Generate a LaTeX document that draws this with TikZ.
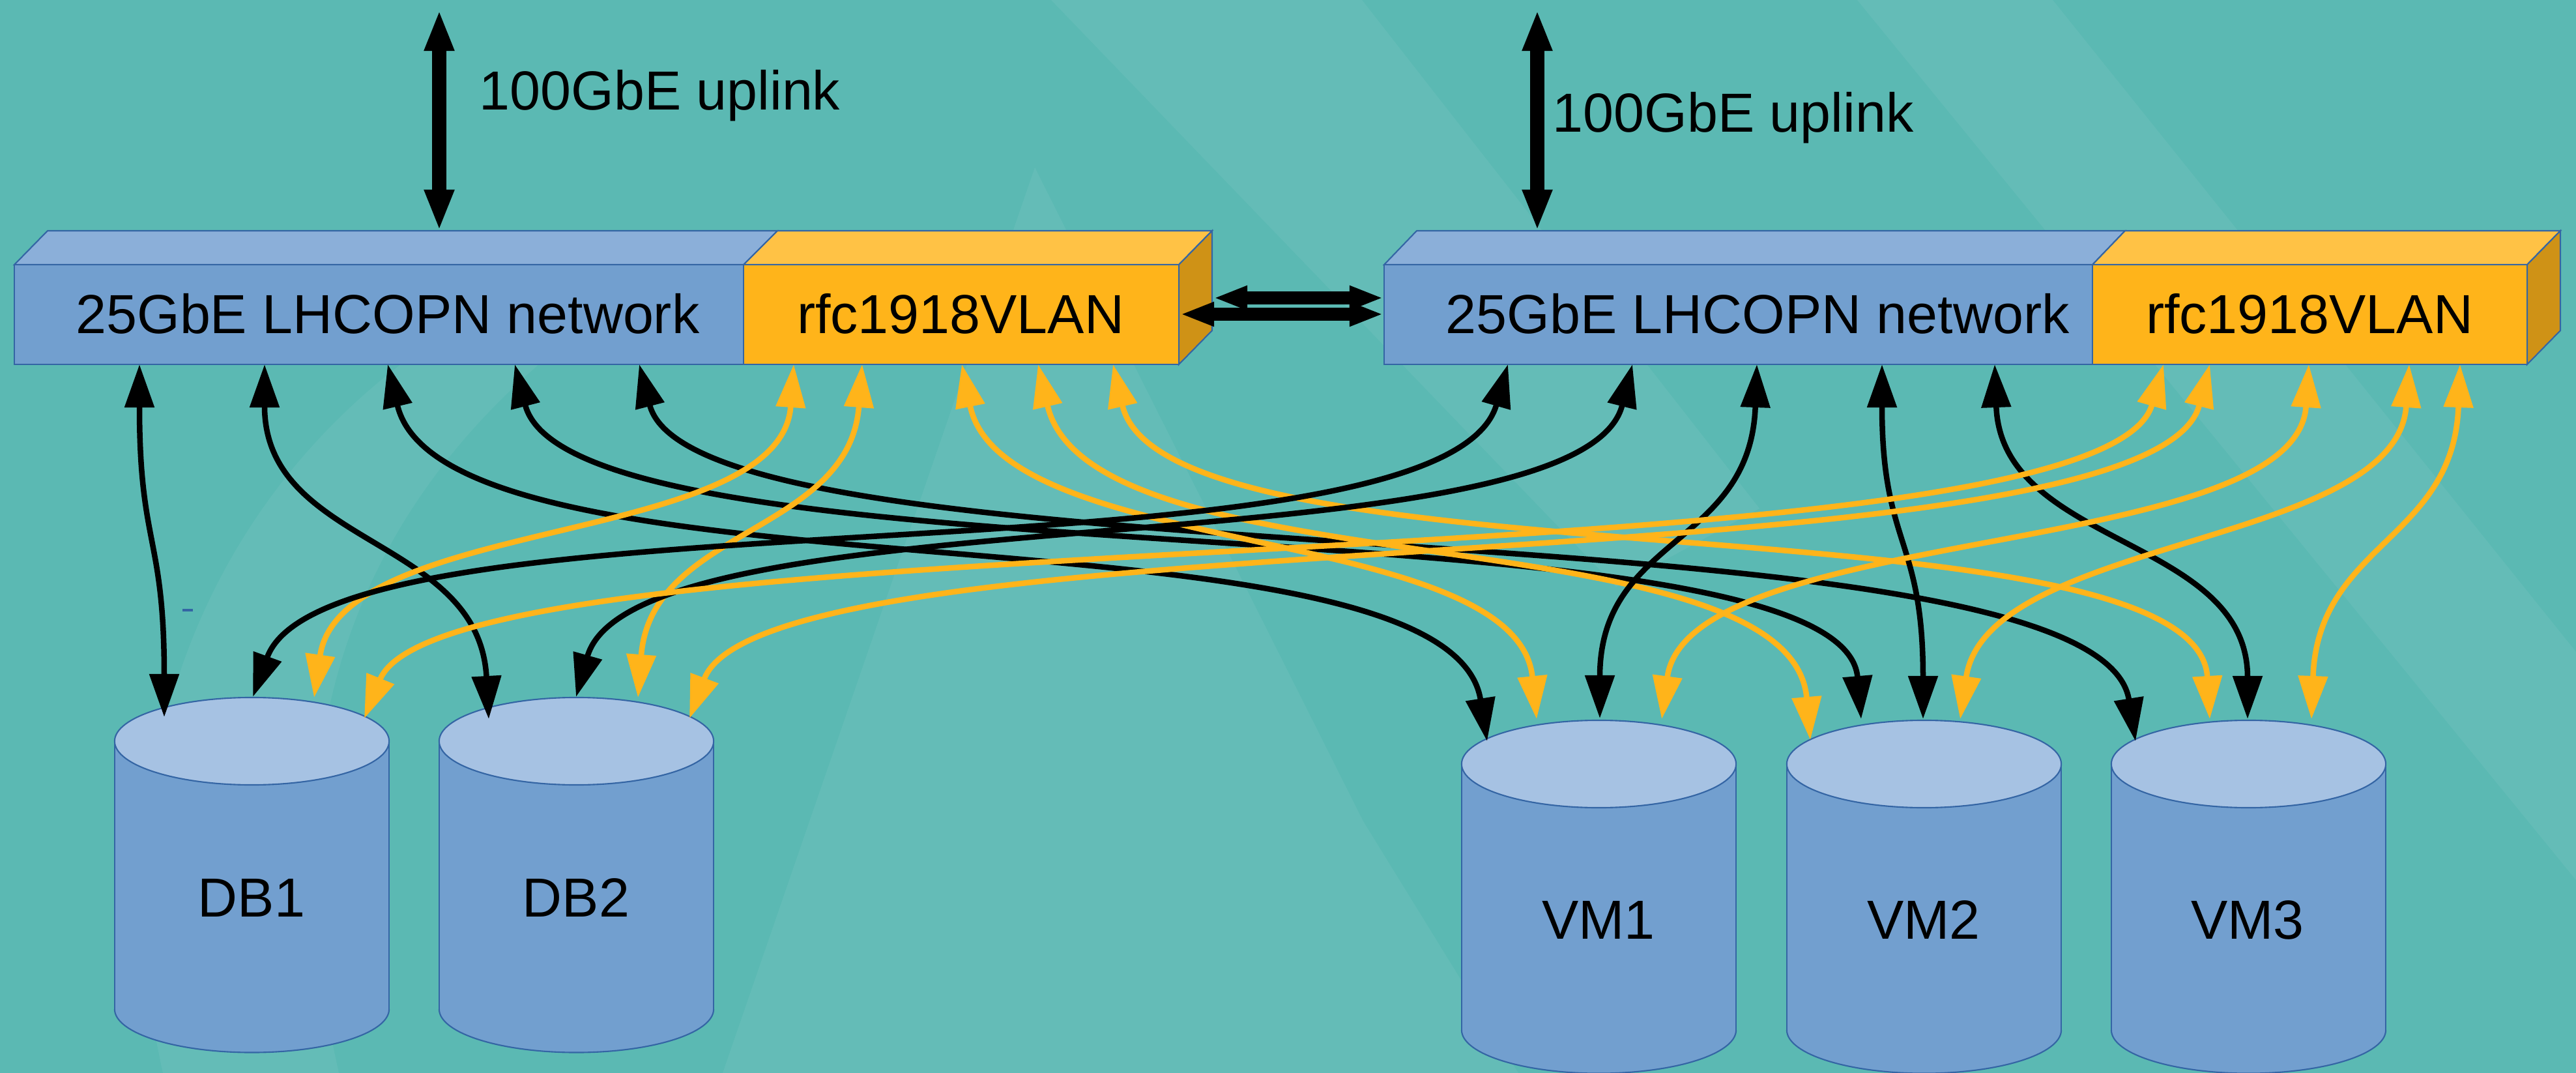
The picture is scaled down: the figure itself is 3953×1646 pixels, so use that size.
\documentclass[tikz,border=0pt]{standalone}
\usepackage{fontspec}
\setmainfont{Liberation Sans}
\usetikzlibrary{arrows.meta}
\definecolor{bg}{RGB}{91,185,179}
\definecolor{bluefront}{RGB}{114,159,207}
\definecolor{bluetop}{RGB}{139,175,217}
\definecolor{orfront}{RGB}{255,180,26}
\definecolor{ortop}{RGB}{255,194,69}
\definecolor{orside}{RGB}{207,146,22}
\definecolor{cyltop}{RGB}{166,194,227}
\definecolor{edgeblue}{RGB}{52,101,164}
\definecolor{conorange}{RGB}{255,180,26}
\tikzset{
  face/.style={draw=edgeblue, line width=0.6pt, line join=miter},
  lbl/.style={font=\fontsize{24}{28}\selectfont, inner sep=0pt, anchor=base, text=black},
  blk/.style={line width=0.85mm, color=black,
    arrows={Triangle[length=6.6mm,width=4.4mm]-Triangle[length=6.6mm,width=4.4mm]}},
  org/.style={blk, color=conorange},
  uplink/.style={line width=2.2mm, color=black,
    arrows={Triangle[length=6.3mm,width=4.2mm]-Triangle[length=6.3mm,width=4.2mm]}},
  link/.style={line width=1.9mm, color=black,
    arrows={Triangle[length=5.2mm,width=3.4mm]-Triangle[length=5.2mm,width=3.4mm]}},
  shade/.style={fill=white, fill opacity=0.055},
}
\newcommand\mycyl[3]{%
  \fill[bluefront] (#1-210.5,#2) rectangle (#1+210.5,#3);
  \fill[bluefront] (#1,#3) ellipse[x radius=2.105cm, y radius=0.665cm];
  \begin{scope}
    \clip (#1-220,#3) rectangle (#1+220,#3+80);
    \draw[edgeblue, line width=0.6pt] (#1,#3) ellipse[x radius=2.105cm, y radius=0.665cm];
  \end{scope}
  \draw[edgeblue, line width=0.6pt] (#1-210.5,#2) -- (#1-210.5,#3) (#1+210.5,#2) -- (#1+210.5,#3);
  \path[fill=cyltop, draw=edgeblue, line width=0.6pt] (#1,#2) ellipse[x radius=2.105cm, y radius=0.67cm];
}
\begin{document}
\begin{tikzpicture}[x=0.01cm, y=-0.01cm]
\useasboundingbox (0,0) rectangle (3953,1646);
\fill[bg] (0,0) rectangle (3953,1646);
% subtle background pattern
\begin{scope}
  \clip (0,0) rectangle (3953,1646);
  \path[shade] (1588,257) -- (2092,1260) -- (2330,1646) -- (1109,1646) -- cycle;
  \path[shade] (1613,0) -- (2090,0) -- (2700,780) -- (2480,900) -- cycle;
  \path[shade] (2850,0) -- (3150,0) -- (3953,1000) -- (3953,1350) -- cycle;
  \path[shade] (250,1646) .. controls (150,1200) and (300,750) .. (700,500)
     -- (900,500) .. controls (500,800) and (420,1200) .. (520,1646) -- cycle;
\end{scope}

% ---- left switch box
\path[face, fill=bluetop] (22,406) -- (73,354) -- (1193,354) -- (1141,406) -- cycle;
\path[face, fill=ortop] (1141,406) -- (1193,354) -- (1860,354) -- (1809,406) -- cycle;
\path[face, fill=orside] (1809,406) -- (1860,354) -- (1860,507) -- (1809,559) -- cycle;
\path[face, fill=bluefront] (22,406) rectangle (1141,559);
\path[face, fill=orfront] (1141,406) rectangle (1809,559);
\node[lbl] (net1) at (595,512) {25GbE LHCOPN network};
\node[lbl] (vlan1) at (1474,512) {rfc1918VLAN};

% ---- right switch box
\path[face, fill=bluetop] (2124,406) -- (2174,354) -- (3261,354) -- (3211,406) -- cycle;
\path[face, fill=ortop] (3211,406) -- (3261,354) -- (3929,354) -- (3878,406) -- cycle;
\path[face, fill=orside] (3878,406) -- (3929,354) -- (3929,507) -- (3878,559) -- cycle;
\path[face, fill=bluefront] (2124,406) rectangle (3211,559);
\path[face, fill=orfront] (3211,406) rectangle (3878,559);
\node[lbl] (net2) at (2697,512) {25GbE LHCOPN network};
\node[lbl] (vlan2) at (3544,512) {rfc1918VLAN};

% ---- uplinks
\coordinate (up1t) at (674,15);  \coordinate (up1b) at (674,354);
\coordinate (up2t) at (2359,15); \coordinate (up2b) at (2359,354);
\draw[uplink] (up1t) -- (up1b);
\draw[uplink] (up2t) -- (up2b);
\node[lbl, anchor=base west] (up1l) at (735,169) {100GbE uplink};
\node[lbl, anchor=base west] (up2l) at (2382,203) {100GbE uplink};

% ---- inter-switch links
\coordinate (s1side) at (1862,457); \coordinate (s2a) at (2123,457);
\coordinate (s1front) at (1811,482); \coordinate (s2b) at (2123,482);
\draw[link] (s1side) -- (s2a);
\draw[link, line width=2mm] (s1front) -- (s2b);

% ---- cylinders
\mycyl{386.5}{1137}{1548}
\mycyl{884.5}{1137}{1548}
\mycyl{2453.5}{1172}{1580}
\mycyl{2952.5}{1172}{1580}
\mycyl{3450.5}{1172}{1580}
\node[lbl] (db1) at (386,1406) {DB1};
\node[lbl] (db2) at (884,1406) {DB2};
\node[lbl] (vm1) at (2453,1440) {VM1};
\node[lbl] (vm2) at (2952,1440) {VM2};
\node[lbl] (vm3) at (3449,1440) {VM3};
\draw[edgeblue, line width=1pt] (280,936) -- (296,936);

% ---- connector end points
\coordinate (n1a) at (214,559);  \coordinate (n1b) at (406,559);
\coordinate (n1c) at (595,559);  \coordinate (n1d) at (790,559);
\coordinate (n1e) at (981,559);
\coordinate (v1a) at (1218,559); \coordinate (v1b) at (1323,559);
\coordinate (v1c) at (1476,559); \coordinate (v1d) at (1593,559);
\coordinate (v1e) at (1708,559);
\coordinate (n2a) at (2314,559); \coordinate (n2b) at (2505,559);
\coordinate (n2c) at (2696,559); \coordinate (n2d) at (2888,559);
\coordinate (n2e) at (3061,559);
\coordinate (v2a) at (3320,559); \coordinate (v2b) at (3391,559);
\coordinate (v2c) at (3543,559); \coordinate (v2d) at (3697,559);
\coordinate (v2e) at (3775,559);
\coordinate (db1n1) at (252,1100); \coordinate (db1n2) at (388,1069);
\coordinate (db1v1) at (482,1070); \coordinate (db1v2) at (559,1102);
\coordinate (db2n1) at (750,1103); \coordinate (db2n2) at (884,1069);
\coordinate (db2v1) at (979,1070); \coordinate (db2v2) at (1058,1102);
\coordinate (vm1n1) at (2282,1137); \coordinate (vm1v1) at (2358,1103);
\coordinate (vm1n2) at (2455,1102); \coordinate (vm1v2) at (2550,1103);
\coordinate (vm2v1) at (2778,1135); \coordinate (vm2n1) at (2856,1103);
\coordinate (vm2n2) at (2951,1103); \coordinate (vm2v2) at (3008,1103);
\coordinate (vm3n1) at (3277,1137); \coordinate (vm3v1) at (3391,1103);
\coordinate (vm3n2) at (3449,1103); \coordinate (vm3v2) at (3547,1103);

% ---- black: left LHCOPN
\draw[blk] (n1a) .. controls +(0,280) and +(0,-280) .. (db1n1);
\draw[blk] (n1b) .. controls +(0,280) and +(-15,-280) .. (db2n1);
\draw[blk] (n1c) .. controls +(90,380) and +(-60,-380) .. (vm1n1);
\draw[blk] (n1d) .. controls +(90,350) and +(-30,-350) .. (vm2n1);
\draw[blk] (n1e) .. controls +(90,350) and +(-60,-380) .. (vm3n1);
% ---- orange: left VLAN
\draw[org] (v1a) .. controls +(-20,280) and +(40,-280) .. (db1v1);
\draw[org] (v1b) .. controls +(-20,260) and +(20,-260) .. (db2v1);
\draw[org] (v1c) .. controls +(60,300) and +(-30,-300) .. (vm1v1);
\draw[org] (v1d) .. controls +(80,350) and +(-30,-350) .. (vm2v1);
\draw[org] (v1e) .. controls +(80,350) and +(-20,-350) .. (vm3v1);
% ---- black: right LHCOPN
\draw[blk] (n2a) .. controls +(-100,350) and +(120,-330) .. (db1n2);
\draw[blk] (n2b) .. controls +(-80,320) and +(90,-320) .. (db2n2);
\draw[blk] (n2c) .. controls +(-10,280) and +(0,-280) .. (vm1n2);
\draw[blk] (n2d) .. controls +(0,280) and +(0,-280) .. (vm2n2);
\draw[blk] (n2e) .. controls +(10,280) and +(0,-280) .. (vm3n2);
% ---- orange: right VLAN
\draw[org] (v2a) .. controls +(-100,350) and +(130,-320) .. (db1v2);
\draw[org] (v2b) .. controls +(-90,350) and +(120,-320) .. (db2v2);
\draw[org] (v2c) .. controls +(-20,300) and +(40,-300) .. (vm1v2);
\draw[org] (v2d) .. controls +(-20,280) and +(40,-280) .. (vm2v2);
\draw[org] (v2e) .. controls +(-10,270) and +(10,-270) .. (vm3v2);
\end{tikzpicture}
\end{document}
